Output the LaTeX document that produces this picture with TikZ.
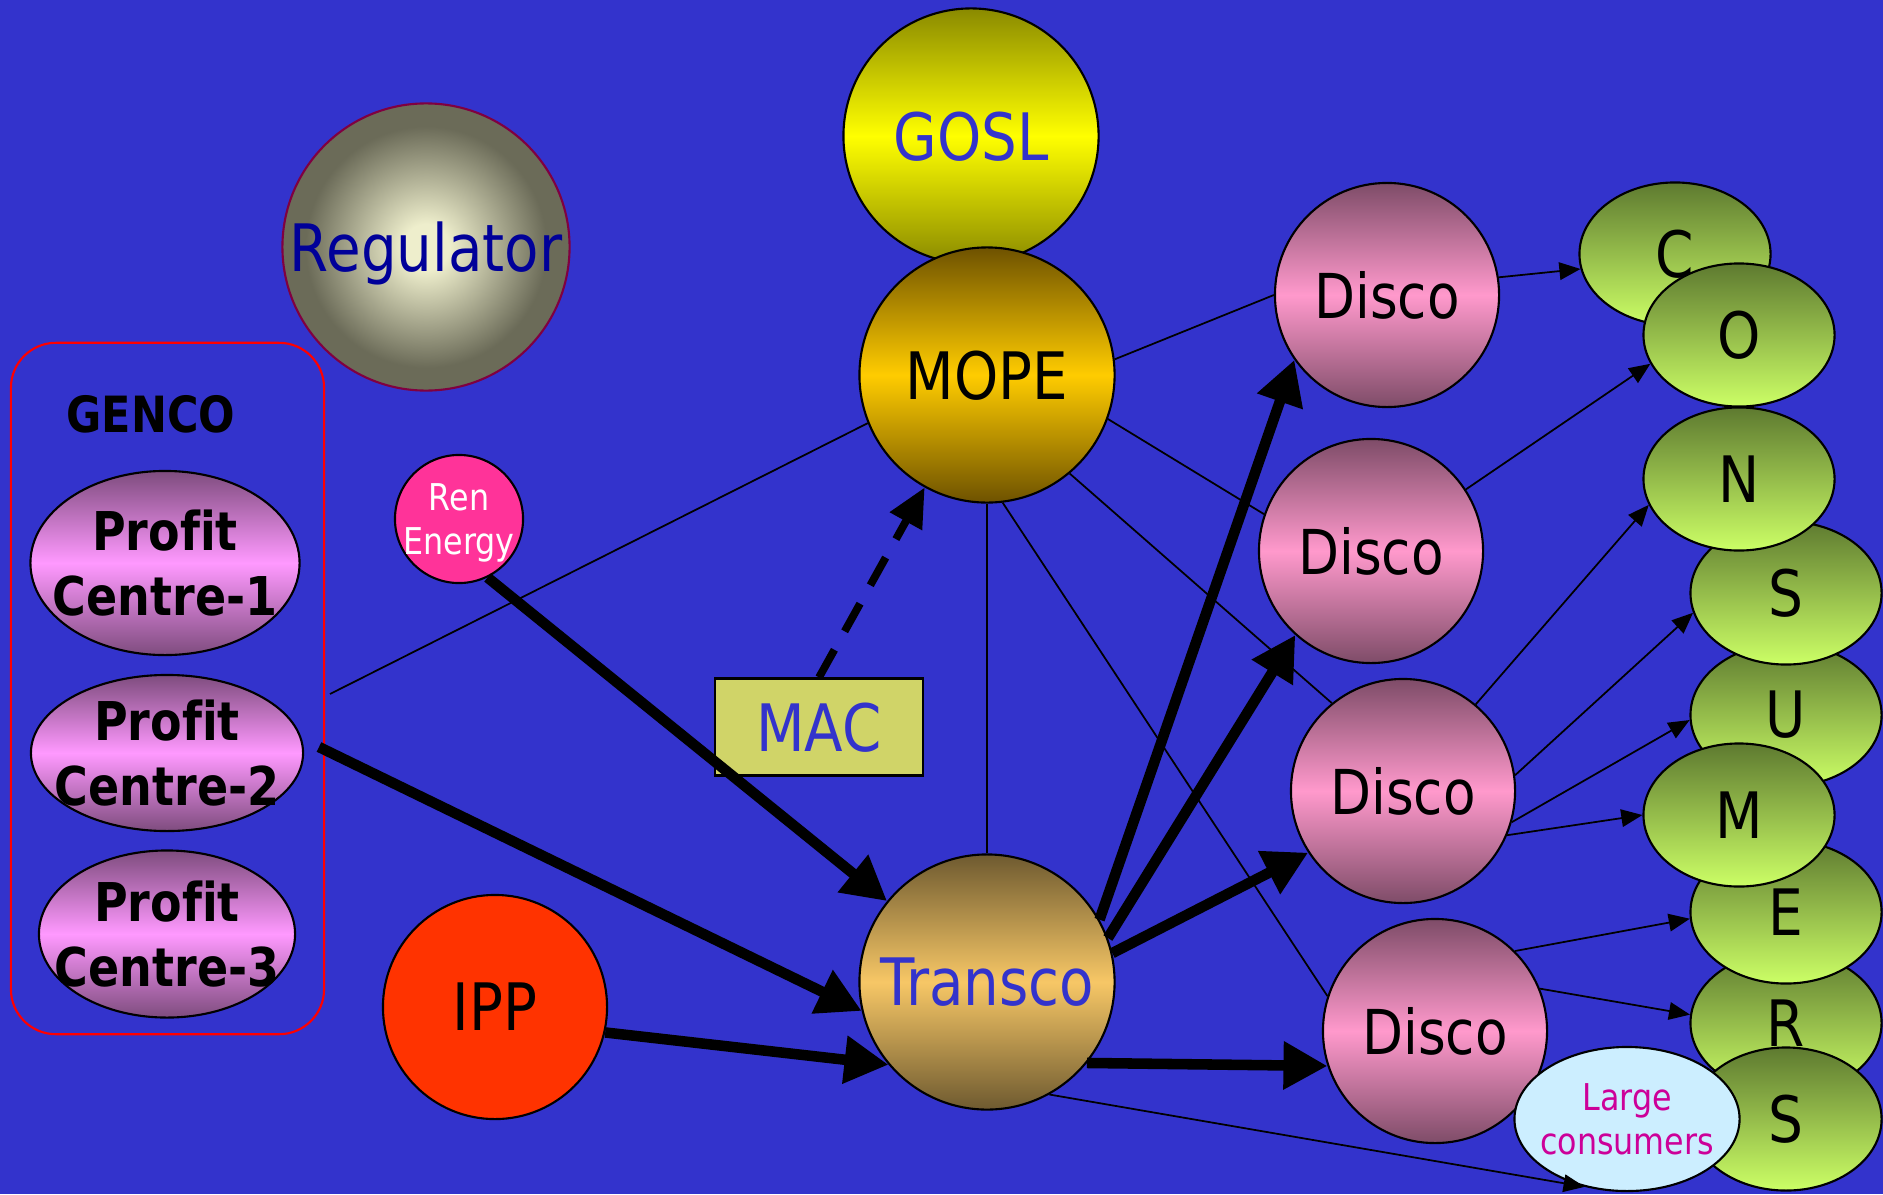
\documentclass[tikz,border=0pt]{standalone}
\usepackage{fontspec}
\setmainfont{DejaVu Sans}[FakeStretch=0.86, Ligatures=NoCommon]
\usetikzlibrary{shapes.geometric,arrows.meta}

\definecolor{sky}{HTML}{3333CC}
\definecolor{navy}{HTML}{000099}
\definecolor{goslmid}{HTML}{FFFF00}
\definecolor{goslend}{HTML}{8A8A00}
\definecolor{mopemid}{HTML}{FFCC00}
\definecolor{mopeend}{HTML}{6E5200}
\definecolor{transmid}{HTML}{F7C766}
\definecolor{transend}{HTML}{6E5A30}
\definecolor{discomid}{HTML}{FF99CC}
\definecolor{discoend}{HTML}{7E4C68}
\definecolor{profmid}{HTML}{FF99FF}
\definecolor{profend}{HTML}{7E4C7E}
\definecolor{constop}{HTML}{5E7A30}
\definecolor{consbot}{HTML}{CCFF66}
\definecolor{regin}{HTML}{EEEECC}
\definecolor{regout}{HTML}{6B6B58}
\definecolor{regline}{HTML}{800040}
\definecolor{renpink}{HTML}{FF3399}
\definecolor{ippred}{HTML}{FF3300}
\definecolor{macfill}{HTML}{D0D468}
\definecolor{largefill}{HTML}{CCEEFF}
\definecolor{largetext}{HTML}{CC0099}

\pgfdeclareradialshading{regshade}{\pgfpoint{0bp}{0bp}}{color(0bp)=(regin); color(4bp)=(regin); color(21bp)=(regout); color(50bp)=(regout)}

\tikzset{
	orb/.style={shape=circle, draw=black, line width=0.6pt, inner sep=0pt},
	oval/.style={shape=ellipse, draw=black, line width=0.6pt, inner sep=0pt},
	bigtext/.style={font=\fontsize{18.6}{22}\selectfont, text depth=0pt},
	disco/.style={orb, minimum size=2.24cm, top color=discoend, bottom color=discoend, middle color=discomid, font=\fontsize{17.6}{20}\selectfont},
	letter/.style={oval, minimum width=1.91cm, minimum height=1.43cm, top color=constop, bottom color=consbot, font=\fontsize{18.2}{20}\selectfont},
	profit/.style={oval, top color=profend, bottom color=profend, middle color=profmid},
	pctext/.style={font=\bfseries\fontsize{15.2}{18.5}\selectfont, align=center, text depth=0pt},
	smalltext/.style={font=\fontsize{10.5}{12.3}\selectfont, align=center, text depth=0pt},
	link/.style={-, black, line width=0.5pt},
	feed/.style={-{Triangle[length=6pt, width=5pt]}, black, line width=0.5pt},
	supply/.style={-{Triangle[length=12.5pt, width=13pt]}, black, line width=3pt},
}

\begin{document}
\begin{tikzpicture}[x=0.01cm, y=-0.01cm]
	\useasboundingbox (0,0) rectangle (1883,1194);
	\fill[sky] (0,0) rectangle (1883,1194);

	% government side
	\node[orb, minimum size=2.55cm, top color=goslend, bottom color=goslend, middle color=goslmid, bigtext, text=sky] (gosl) at (971,136) {GOSL};
	\node[orb, minimum size=2.55cm, top color=mopeend, bottom color=mopeend, middle color=mopemid, bigtext] (mope) at (987,375) {MOPE};
	\node[orb, minimum size=2.87cm, draw=regline, shade, shading=regshade, bigtext, text=navy] (reg) at (426,247) {Regulator};

	% generation
	\node[rectangle, draw=red, line width=0.6pt, rounded corners=0.45cm, minimum width=3.13cm, minimum height=6.91cm] (genco) at (167.5,688.5) {};
	\node[font=\bfseries\fontsize{14.2}{17}\selectfont] (gencotitle) at (151,414) {GENCO};
	\node[profit, minimum width=2.69cm, minimum height=1.84cm, label={[pctext]center:{Profit\\Centre-1}}] (pc1) at (165,563) {};
	\node[profit, minimum width=2.72cm, minimum height=1.56cm, label={[pctext]center:{Profit\\Centre-2}}] (pc2) at (167,753) {};
	\node[profit, minimum width=2.56cm, minimum height=1.67cm, label={[pctext]center:{Profit\\Centre-3}}] (pc3) at (167,934) {};
	\coordinate (gencoin)  at (330,694);
	\coordinate (gencoout) at (319,747);

	\node[orb, minimum size=1.28cm, fill=renpink, label={[smalltext, text=white]center:{Ren\\Energy}}] (ren) at (459,519) {};
	\node[orb, minimum size=2.24cm, fill=ippred, bigtext] (ipp) at (495,1007) {IPP};
	\node[rectangle, draw=black, line width=0.6pt, fill=macfill, minimum width=2.08cm, minimum height=0.97cm, bigtext, text=sky] (mac) at (819,727) {MAC};
	\node[orb, minimum size=2.55cm, top color=transend, bottom color=transend, middle color=transmid, bigtext, text=sky] (transco) at (987,982) {Transco};

	% distribution
	\node[disco] (disco1) at (1387,295) {Disco};
	\node[disco] (disco2) at (1371,551) {Disco};
	\node[disco] (disco3) at (1403,791) {Disco};
	\node[disco] (disco4) at (1435,1031) {Disco};

	% consumers
	\node[letter] (c)  at (1675,254)  {C};
	\node[letter] (o)  at (1739,335)  {O};
	\node[letter] (r)  at (1786,1023) {R};
	\node[letter] (e)  at (1786,912)  {E};
	\node[letter] (u)  at (1786,715)  {U};
	\node[letter] (s1) at (1786,593)  {S};
	\node[letter] (n)  at (1739,479)  {N};
	\node[letter] (m)  at (1739,815)  {M};
	\node[letter] (s2) at (1786,1119) {S};
	\node[oval, minimum width=2.25cm, minimum height=1.44cm, fill=largefill, label={[smalltext, text=largetext]center:{Large\\consumers}}] (large) at (1627,1119) {};

	% MOPE links
	\path [link] (mope.7)     edge (disco1.west);
	\path [link] (mope.-20)   edge (disco2.161);
	\path [link] (mope.-50)   edge (disco3.129);
	\path [link] (mope.-83)   edge (disco4.162);
	\path [link] (mope.south) edge (transco.north);
	\path [link] (mope.202)   edge (gencoin);

	% power flow
	\path [supply] (ren.-64)    edge (transco.141);
	\path [supply] (gencoout)   edge (transco.193);
	\path [supply] (ipp.-13)    edge (transco.-140);
	\path [supply] (transco.29) edge (disco1.-145);
	\path [supply] (transco.20) edge (disco2.-132);
	\path [supply] (transco.13) edge (disco3.-147);
	\path [supply] (transco.-39) edge (disco4.198);
	\path [-{Triangle[length=11pt, width=10pt]}, black, line width=2.2pt, dash pattern=on 9pt off 6pt] (mac.north) edge (mope.241);

	% supply to consumers
	\path [feed] (disco1.9)   edge (c.189);
	\path [feed] (disco2.33)  edge (o.198);
	\path [feed] (disco3.50)  edge (n.196);
	\path [feed] (disco3.8)   edge (s1.192);
	\path [feed] (disco3.-16) edge (u.183);
	\path [feed] (disco3.-23) edge (m.180);
	\path [feed] (disco4.45)  edge (e.184);
	\path [feed] (disco4.22)  edge (r.175);
	\path [feed] (transco.-61) edge (large.238);
\end{tikzpicture}
\end{document}
